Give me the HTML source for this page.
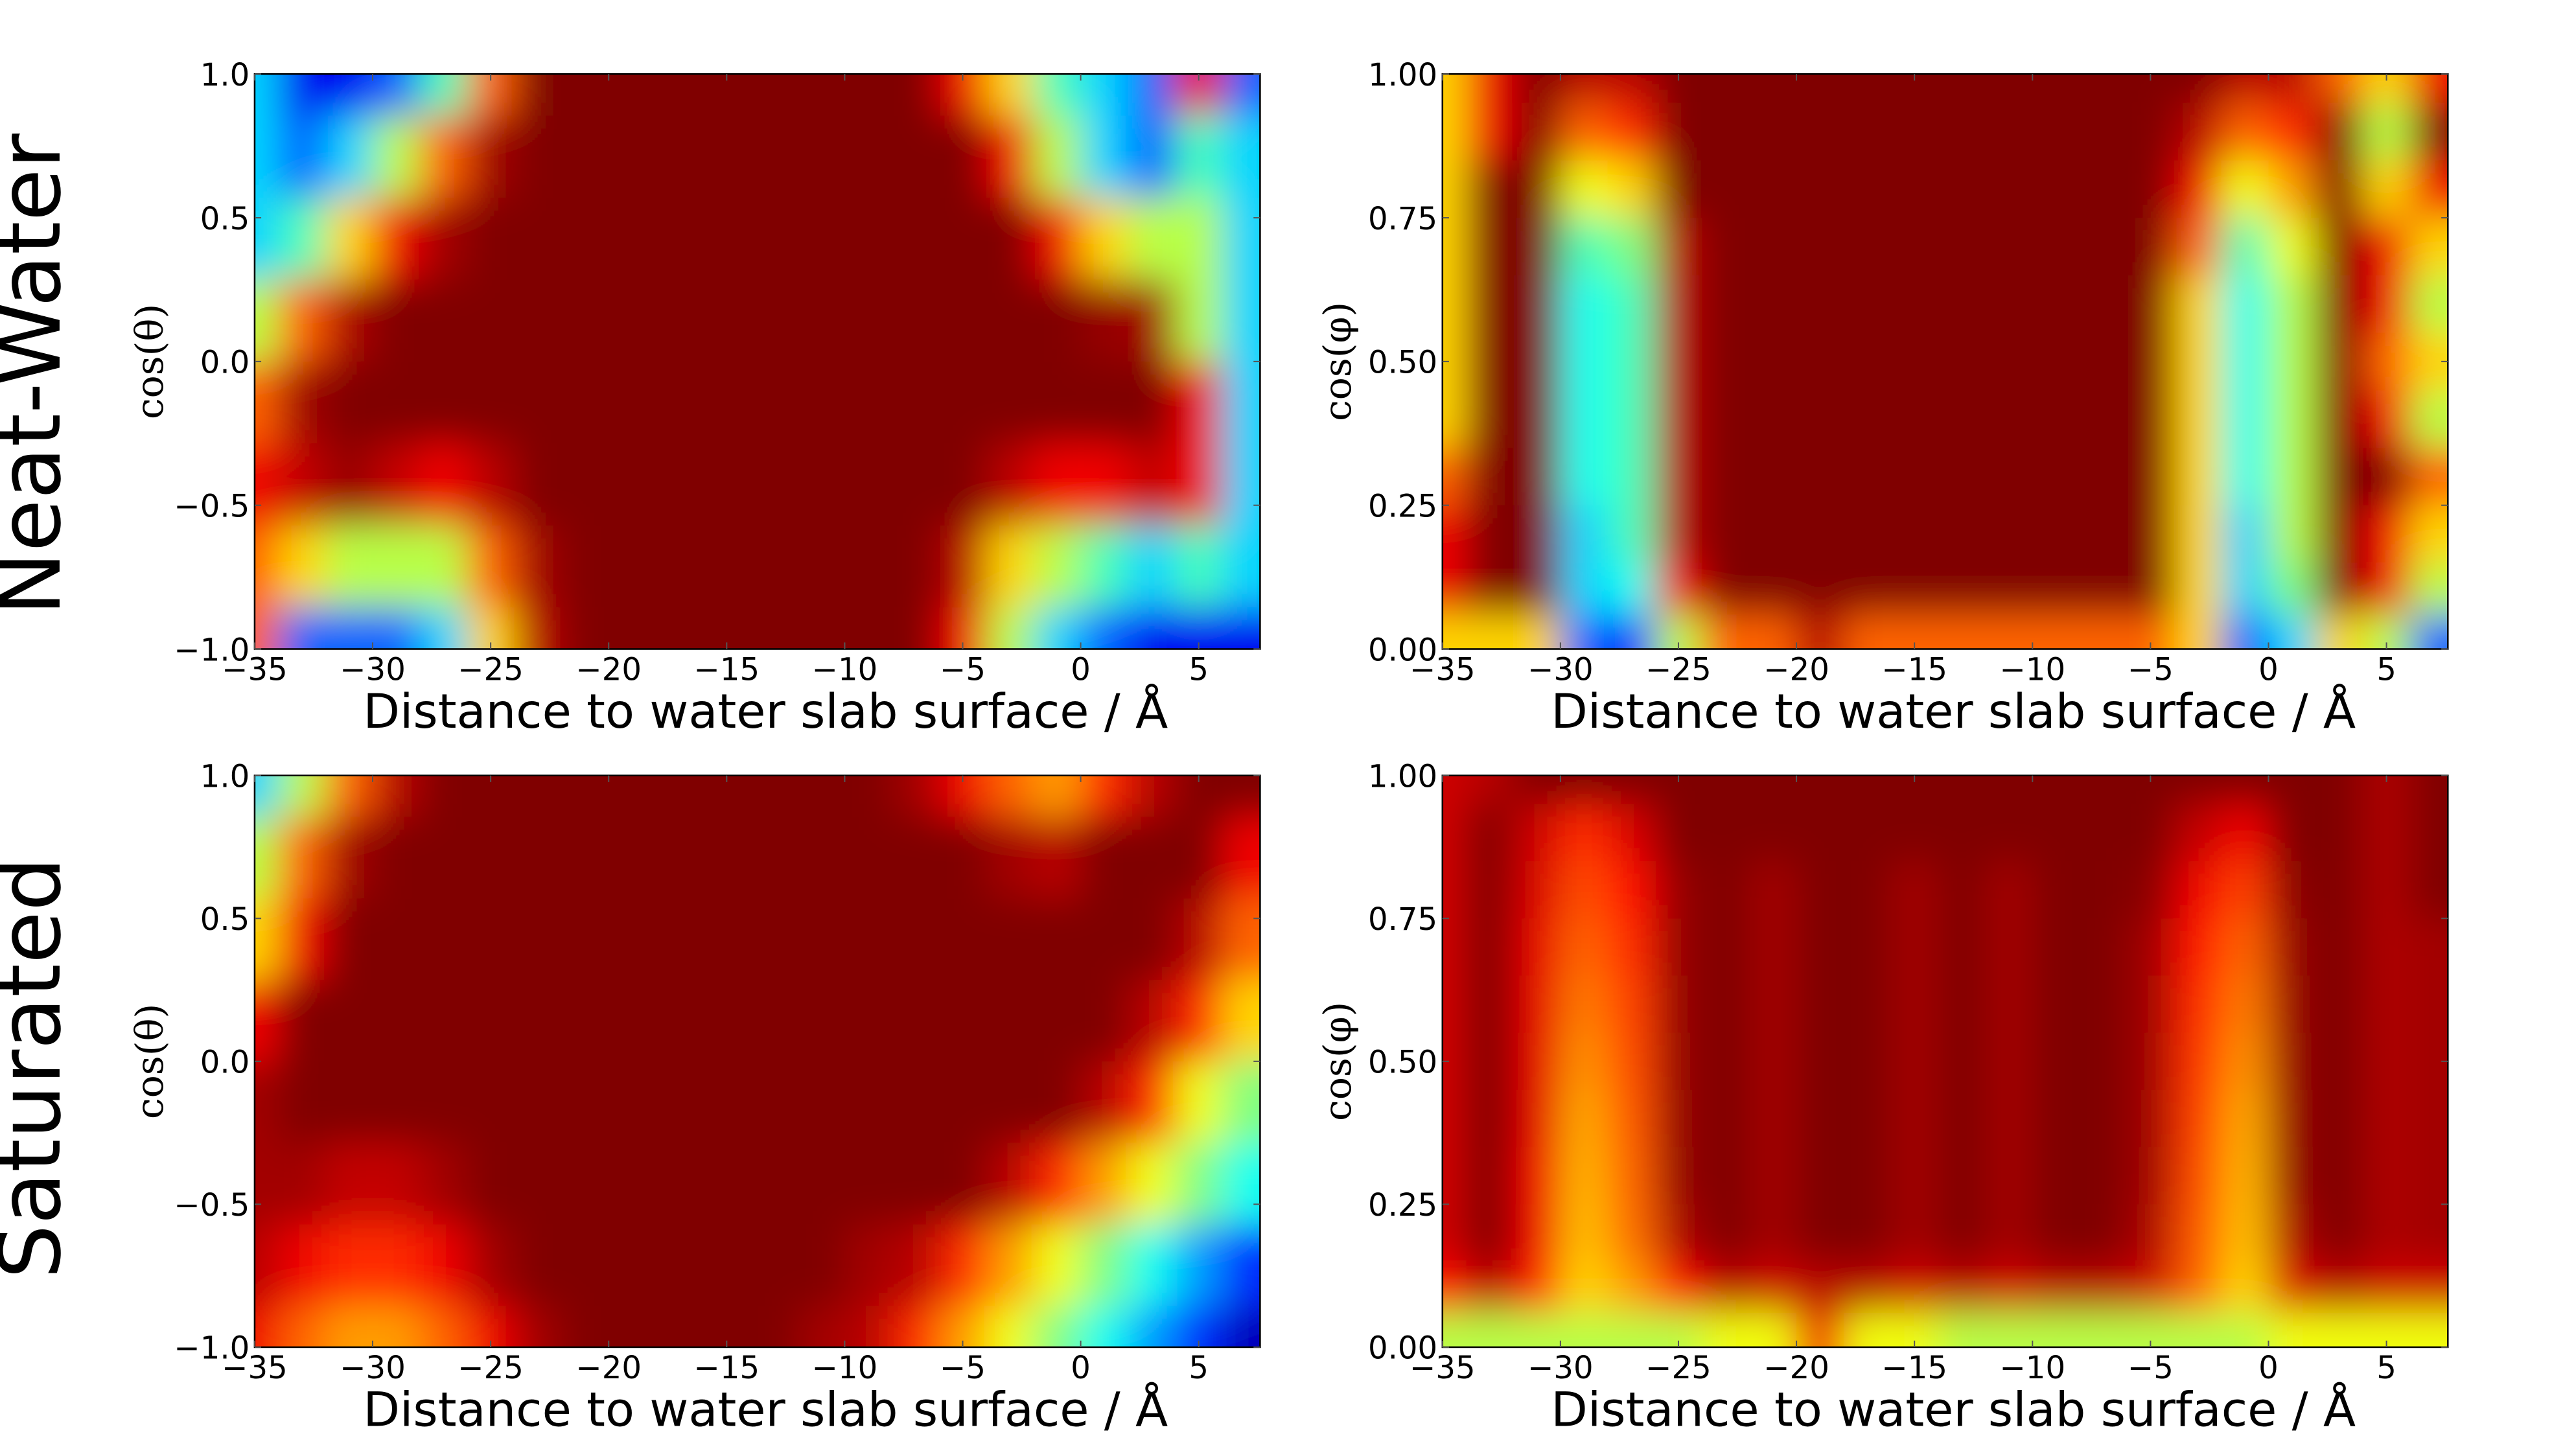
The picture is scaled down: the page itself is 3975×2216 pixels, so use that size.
<!DOCTYPE html>
<html><head><meta charset="utf-8"><style>
html,body{margin:0;padding:0;background:#fff;}
svg{display:block;}
text{font-family:"DejaVu Sans","Liberation Sans",sans-serif;fill:#000;}
.serif{font-family:"DejaVu Serif","Liberation Serif",serif;}
</style></head><body>
<svg id="fig" width="3975" height="2216" viewBox="0 0 1568 874" xmlns="http://www.w3.org/2000/svg">
<defs>
<filter id="blur" filterUnits="userSpaceOnUse" x="0" y="0" width="1568" height="874"><feGaussianBlur stdDeviation="12"/></filter>
</defs>
<text transform="translate(22,228) rotate(-90)" text-anchor="middle" dominant-baseline="middle" font-size="52">Neat-Water</text>
<text transform="translate(22,650) rotate(-90)" text-anchor="middle" dominant-baseline="middle" font-size="52">Saturated</text>
</svg>
<script>
const xCols = [-35,-33,-31,-29,-27,-25,-23,-21,-19,-17,-15,-13,-11,-9,-7,-5,-3,-1,1,3,5,7];
const xTicks = [-35,-30,-25,-20,-15,-10,-5,0,5];
const xTickLabels = ["\u221235","\u221230","\u221225","\u221220","\u221215","\u221210","\u22125","0","5"];
const thetaRows = [1.0,0.71,0.43,0.14,-0.14,-0.43,-0.71,-1.0];
const thetaTicks = [1.0,0.5,0.0,-0.5,-1.0];
const thetaTickLabels = ["1.0","0.5","0.0","\u22120.5","\u22121.0"];
const phiRows = [1.0,0.9,0.8,0.7,0.6,0.5,0.4,0.3,0.2,0.1,0.02];
const phiTicks = [1.0,0.75,0.5,0.25,0.0];
const phiTickLabels = ["1.00","0.75","0.50","0.25","0.00"];

const neatTheta = [
[3,1,1,2,4,7,9,9,9,9,9,9,9,9,9,8,6,4,3,2,8,2],
[3,2,3,5,7,8.7,9,9,9,9,9,9,9,9,9,9,8,5,3,2,4,3],
[3,4,6,8,8.7,9,9,9,9,9,9,9,9,9,9,9,9,8,6,5,5,3],
[5,7,8.6,9,9,9,9,9,9,9,9,9,9,9,9,9,9,9,8.8,8.7,5,3],
[7,8.7,9,9,9,9,9,9,9,9,9,9,9,9,9,9,9,9,9,9,8,3],
[8,8.4,8.8,8.4,8,8.5,9,9,9,9,9,9,9,9,9,9,8.5,8,8,8.4,8,3],
[7,6,5,5,5,7,8.7,9,9,9,9,9,9,9,9,8.5,6,5,4,3,4,3],
[7,2,2,2,3,6,8.5,9,9,9,9,9,9,9,9,8,5,3,2,1,1,1]];
const neatPhi = [
[6,8,9,8.5,8.5,9,9,9,9,9,9,9,9,9,9,9,9,8.5,8.5,7,6,8],
[6,8,9,7,7.5,9,9,9,9,9,9,9,9,9,9,9,8.5,7,7.5,9,5,9],
[6,9,9,5.5,6,9,9,9,9,9,9,9,9,9,9,9,8,5.5,6.5,9,6,8],
[6,9,9,4,4.5,8.5,9,9,9,9,9,9,9,9,9,9,7,4,5.5,9,8,6],
[6,9,9,3.5,4,8.5,9,9,9,9,9,9,9,9,9,9,6,3.5,5,9,8,5],
[6,9,9,3.5,4,8.5,9,9,9,9,9,9,9,9,9,9,6,3.5,5,9,7,6],
[6,9,9,3.5,4,8.5,9,9,9,9,9,9,9,9,9,9,6,3.5,5,9,8,5],
[7,9,9,3.5,4,8.5,9,9,9,9,9,9,9,9,9,9,6,3.5,5,9,9,7],
[8,9,9,3,4,8.5,9,9,9,9,9,9,9,9,9,9,6,3,5,9,8,6],
[8,9,9,3,3.5,8,9,9,9,9,9,9,9,9,9,9,6,3,4.5,9,8,5],
[6,6,6,2,1.5,5,7,7,8.5,7,7,7,7,7,7,7,6,2,3,6,5,2]];
const satTheta = [
[3,5,7,8.5,9,9,9,9,9,9,9,9,9,9,8.7,8,7,6.5,7.5,8.5,9,9],
[5,7,8.7,9,9,9,9,9,9,9,9,9,9,9,9,9,8.7,8.5,9,9,9,8],
[6,8,9,9,9,9,9,9,9,9,9,9,9,9,9,9,9,9,9,9,8.5,7],
[8,9,9,9,9,9,9,9,9,9,9,9,9,9,9,9,9,9,9,8.5,7.5,6],
[8.7,9,9,9,9,9,9,9,9,9,9,9,9,9,9,9,9,9,8.5,7.5,5.5,4.5],
[8.7,8.7,8.4,8.4,8.7,9,9,9,9,9,9,9,9,9,9,9,8.5,7.5,6.5,5.5,4.5,3.5],
[8.5,8,7.5,7.5,8,8.7,9,9,9,9,9,9,9,8.7,8.5,7.5,6.5,5.5,4.5,3.5,2.5,1.5],
[8,7,6.5,6.5,7,8,8.7,9,9,9,9,9,8.7,8.5,7.5,6.5,5.5,4.5,3.5,2.5,1.5,0.5]];
const satPhi = [
[8.3,8.5,9,9,9,9,9,9,9,9,9,9,9,9,9,9,9,9,9,9,8.6,9],
[8.3,9,8.3,7.5,8.2,9,9,9,9,9,9,9,9,9,9,9,8.4,8,9,9,8.6,9],
[8.3,9,8.2,7.2,7.8,8.8,9,8.7,9,9,8.7,9,8.7,9,9,8.9,8,7.3,8.9,9,8.6,9],
[8.3,9,8.1,7,7.5,8.8,9,8.7,9,9,8.7,9,8.7,9,9,8.7,7.7,7,8.8,9,8.6,8.7],
[8.3,9,8.1,6.8,7.3,8.8,9,8.7,9,9,8.7,9,8.7,9,9,8.7,7.5,6.8,8.8,9,8.6,8.7],
[8.3,9,8.1,6.6,7.2,8.8,9,8.7,9,9,8.7,9,8.7,9,9,8.7,7.4,6.6,8.8,9,8.6,8.7],
[8.3,9,8.1,6.4,7.1,8.8,9,8.7,9,9,8.7,9,8.7,9,9,8.7,7.3,6.4,8.8,9,8.6,8.7],
[8.3,9,8,6.3,7,8.8,9,8.7,9,9,8.7,9,8.7,9,9,8.7,7.2,6.3,8.8,9,8.6,8.7],
[8.3,9,8,6.2,6.9,8.6,9,8.7,9,9,8.7,9,8.7,9,9,8.6,7.1,6.2,8.6,9,8.6,8.7],
[7.8,8.5,7.6,6,6.5,7.8,8.5,8.3,8.5,8.5,8.3,8.5,8.3,8.5,8.5,8.3,7,6,8.2,8.5,8.3,8.3],
[5,5,5,5,5,5,5.5,5.5,8,5.5,5.5,5,5,5,5,5,5,5,5.5,5.5,5.5,5.5]];

const NS = "http://www.w3.org/2000/svg";
const svg = document.getElementById('fig');
function mk(tag, attrs, parent){const e=document.createElementNS(NS,tag);for(const k in attrs)e.setAttribute(k,attrs[k]);(parent||svg).appendChild(e);return e;}
function clip01(v){return Math.max(0,Math.min(1,v));}
function jet(v){const t=v/9;const r=clip01(1.5-Math.abs(4*t-3)),g=clip01(1.5-Math.abs(4*t-2)),b=clip01(1.5-Math.abs(4*t-1));return `rgb(${Math.round(r*255)},${Math.round(g*255)},${Math.round(b*255)})`;}

const XMIN=-35, XMAX=7.6;
let pid=0;
function panel(name, L, T, R, B, rows, grid, yMin, yMax, yTicks, yTickLabels, ylab){
  pid++;
  const xs = v => L + (v-XMIN)/(XMAX-XMIN)*(R-L);
  const ys = v => B - (v-yMin)/(yMax-yMin)*(B-T);
  const g = mk('g',{});
  
  
  const cp = mk('clipPath',{id:'cp'+pid}, g);
  mk('rect',{x:L,y:T,width:R-L,height:B-T},cp);
  const outer = mk('g',{'clip-path':`url(#cp${pid})`}, g);
  const hm = mk('g',{filter:'url(#blur)'}, outer);
  
  
  for(let r=0;r<rows.length;r++){
    const yTop = r===0 ? ys(yMax)-40 : ys((rows[r-1]+rows[r])/2);
    const yBot = r===rows.length-1 ? ys(yMin)+40 : ys((rows[r]+rows[r+1])/2);
    for(let c=0;c<xCols.length;c++){
      const x0 = c===0 ? xs(XMIN)-40 : xs((xCols[c-1]+xCols[c])/2);
      const x1 = c===xCols.length-1 ? xs(XMAX)+40 : xs((xCols[c]+xCols[c+1])/2);
      const cell = mk('rect',{x:x0,y:yTop,width:x1-x0+0.5,height:yBot-yTop+0.5,fill:jet(grid[r][c])}, hm);
      
      
    }
  }
  const frame = mk('rect',{x:L,y:T,width:R-L,height:B-T,fill:'none',stroke:'#000','stroke-width':1}, g);
  
  
  xTicks.forEach((v,i)=>{
    const x=xs(v);
    mk('line',{x1:x,x2:x,y1:B,y2:B-4,stroke:'#555','stroke-width':0.8},g);
    mk('line',{x1:x,x2:x,y1:T,y2:T+4,stroke:'#555','stroke-width':0.8},g);
    const t=mk('text',{x:x,y:B+19,'text-anchor':'middle','font-size':19},g);
    t.textContent=xTickLabels[i];
    
    
  });
  yTicks.forEach((v,i)=>{
    const y=ys(v);
    mk('line',{x1:L,x2:L+4,y1:y,y2:y,stroke:'#555','stroke-width':0.8},g);
    mk('line',{x1:R,x2:R-4,y1:y,y2:y,stroke:'#555','stroke-width':0.8},g);
    const t=mk('text',{x:L-3,y:y+7,'text-anchor':'end','font-size':19},g);
    t.textContent=yTickLabels[i];
    
    
  });
  const xl=mk('text',{x:(L+R)/2+5,y:B+48,'text-anchor':'middle','font-size':29},g);
  xl.textContent='Distance to water slab surface / \u00C5';
  
  
  const yl=mk('text',{transform:`translate(${L-56},${(T+B)/2}) rotate(-90)`,'text-anchor':'middle','font-size':23,'class':'serif'},g);
  yl.textContent=ylab;
  
  
}
panel('neat-water-theta-panel',155,45,767,395,thetaRows,neatTheta,-1,1,thetaTicks,thetaTickLabels,'cos(\u03B8)');
panel('neat-water-phi-panel',878,45,1490,395,phiRows,neatPhi,0,1,phiTicks,phiTickLabels,'cos(\u03C6)');
panel('saturated-theta-panel',155,472,767,820,thetaRows,satTheta,-1,1,thetaTicks,thetaTickLabels,'cos(\u03B8)');
panel('saturated-phi-panel',878,472,1490,820,phiRows,satPhi,0,1,phiTicks,phiTickLabels,'cos(\u03C6)');
</script>
</body></html>
